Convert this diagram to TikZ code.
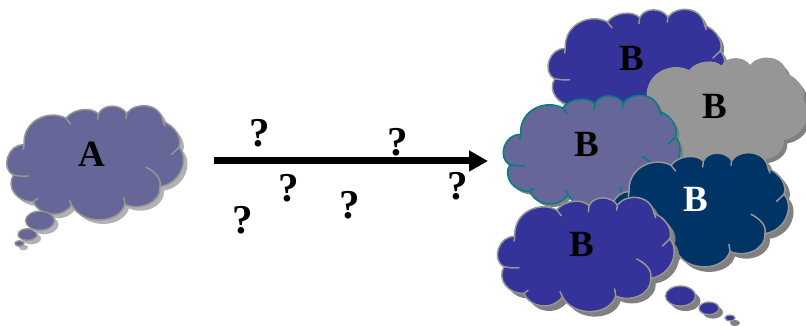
\documentclass[tikz,border=0pt]{standalone}
\usepackage{fontspec}
\setmainfont{Liberation Serif}
\usetikzlibrary{arrows.meta}
\definecolor{slate}{HTML}{666699}
\definecolor{royal}{HTML}{333399}
\definecolor{navy}{HTML}{003366}
\definecolor{ltgrey}{HTML}{969696}
\definecolor{shadelight}{HTML}{B2B2B2}
\definecolor{shadedark}{HTML}{808080}
\definecolor{tealline}{HTML}{008080}
\tikzset{
  lab/.style={font=\bfseries\fontsize{37}{37}\selectfont, inner sep=0pt, text=black},
  qm/.style={font=\bfseries\fontsize{41}{41}\selectfont, inner sep=0pt, text=black},
  outl/.style={line width=1.5pt, line join=round, line cap=round}
}
\newcommand{\lobes}{(72,165) .. controls (68,88) and (150,58) .. (198,85)
  .. controls (220,55) and (275,50) .. (295,72)
  .. controls (310,40) and (362,42) .. (380,70)
  .. controls (405,36) and (480,36) .. (490,95)
  .. controls (525,108) and (548,145) .. (537,172)
  .. controls (568,205) and (545,280) .. (480,290)
  .. controls (482,342) and (415,362) .. (375,343)
  .. controls (358,402) and (248,408) .. (215,345)
  .. controls (190,385) and (120,382) .. (100,335)
  .. controls (52,338) and (18,292) .. (40,255)
  .. controls (0,235) and (25,160) .. (72,165) -- cycle}
\newcommand{\creases}{(72,165) -- (70,178)
  (40,255) .. controls (55,258) and (70,260) .. (85,258)
  (100,335) -- (112,326) (215,345) -- (208,330)
  (375,343) -- (372,322)
  (480,290) .. controls (485,265) and (465,245) .. (438,232)
  (537,172) -- (515,193) (490,95) -- (495,108)
  (198,85) -- (212,102)
  (295,72) -- (293,90) (380,70) -- (378,85)}
\newcommand{\mycloud}[6]{%
  \begin{scope}[shift={(#1pt+#6pt,-#2pt-#6pt)}, x=0.3333pt, y=-0.3333pt]
    \fill[#5] \lobes;
  \end{scope}
  \begin{scope}[shift={(#1pt,-#2pt)}, x=0.3333pt, y=-0.3333pt]
    \fill[#3] \lobes;
    \draw[outl, #4] \lobes;
    \draw[outl, #4] \creases;
  \end{scope}}
\newcommand{\bubble}[8]{%
  \fill[#7] (#1+#8,#2+#8) ellipse [x radius=#3, y radius=#4];
  \filldraw[#5, draw=#6, line width=1.3pt] (#1,#2) ellipse [x radius=#3, y radius=#4];}
\begin{document}
\begin{tikzpicture}[x=1pt, y=-1pt]
\useasboundingbox (0,0) rectangle (806,326);
% cloud A
\bubble{19.5}{243.5}{4.5}{2.8}{slate}{ltgrey}{shadelight}{4}
\bubble{27.5}{234.5}{9.5}{5.8}{slate}{ltgrey}{shadelight}{4}
\mycloud{0}{90}{slate}{ltgrey}{shadelight}{4}
\bubble{40}{220.7}{14.5}{9.5}{slate}{ltgrey}{shadelight}{4}
\node[lab] (a) at (92,154) {A};
% arrow
\coordinate (s) at (214,161);
\coordinate (e) at (488,161);
\draw[line width=7pt, -{Triangle[length=19pt,width=20pt]}] (s) -- (e);
% question marks
\node[qm] (q1) at (260,133) {?};
\node[qm] (q2) at (398,142) {?};
\node[qm] (q3) at (289,188) {?};
\node[qm] (q4) at (350,205) {?};
\node[qm] (q5) at (458,186) {?};
\node[qm] (q6) at (243,220) {?};
% cluster of B clouds
\mycloud{541.3}{-6.3}{royal}{ltgrey}{shadedark}{3}
\node[lab] (b1) at (632,58) {B};
\mycloud{623.3}{42.7}{ltgrey}{ltgrey}{shadedark}{4}
\node[lab] (b2) at (715,106) {B};
\mycloud{496.5}{79.7}{slate}{tealline}{shadedark}{3}
\node[lab] (b3) at (587,144.5) {B};
\mycloud{605}{137}{navy}{ltgrey}{shadedark}{5}
\node[lab, text=white] (b4) at (696,199) {B};
\mycloud{490.7}{181.7}{royal}{ltgrey}{shadedark}{5}
\node[lab] (b5) at (582,244.5) {B};
\bubble{680.5}{296}{15}{10}{royal}{ltgrey}{shadedark}{5}
\bubble{709}{308.3}{10}{6.3}{royal}{ltgrey}{shadedark}{4}
\bubble{730}{318}{5}{3}{royal}{ltgrey}{shadedark}{5}
\end{tikzpicture}
\end{document}
